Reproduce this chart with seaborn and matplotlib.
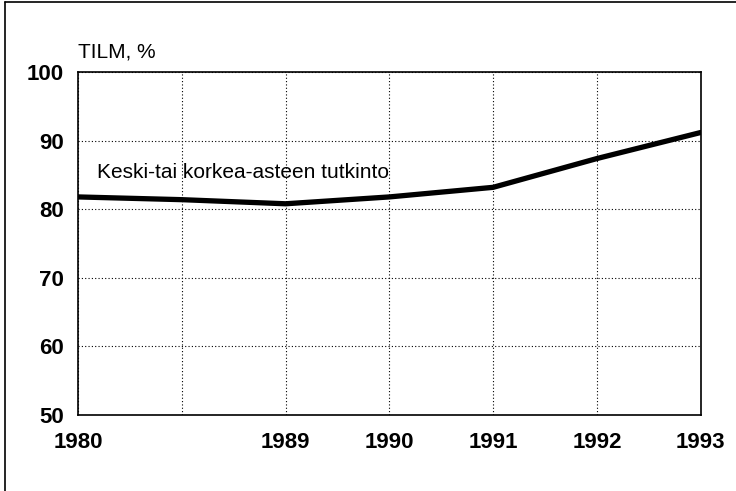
import matplotlib
matplotlib.use("Agg")
import matplotlib.pyplot as plt
import seaborn as sns
import pandas as pd
from matplotlib.lines import Line2D

# --- Data ---
vuodet = ["1980", "", "1989", "1990", "1991", "1992", "1993"]
osuus = [81.8, 81.4, 80.8, 81.8, 83.2, 87.4, 91.2]
y_ticks = [50, 60, 70, 80, 90, 100]
sarja_nimi = "Keski-tai korkea-asteen tutkinto"

df = pd.DataFrame({"pos": range(len(vuodet)), "osuus": osuus})

sns.set_style("white")
plt.rcParams["font.family"] = ["Liberation Sans", "DejaVu Sans"]
plt.rcParams["text.color"] = "black"
plt.rcParams["xtick.color"] = "black"
plt.rcParams["ytick.color"] = "black"

fig = plt.figure(figsize=(7.36, 4.91), dpi=100)
ax = fig.add_axes([0.106, 0.155, 0.846, 0.698])

sns.lineplot(data=df, x="pos", y="osuus", color="black", linewidth=3.8, ax=ax)

ax.set_xlim(0, len(vuodet) - 1)
ax.set_ylim(50, 100)
ax.set_xticks(range(len(vuodet)))
ax.set_xticklabels(vuodet, fontsize=16, fontweight="bold")
ax.set_yticks(y_ticks)
ax.set_yticklabels([str(v) for v in y_ticks], fontsize=16, fontweight="bold")
ax.tick_params(axis="x", direction="out", length=7, width=1.2, pad=5)
ax.tick_params(axis="y", length=0, pad=10)
ax.set_xlabel("")
ax.set_ylabel("")

ax.grid(True, linestyle=(0, (1, 2)), color="black", linewidth=0.8)
for s in ax.spines.values():
    s.set_color("black")
    s.set_linewidth(1.2)

ax.text(0.0, 101.5, "TILM, %", fontsize=15, ha="left", va="bottom")
ax.text(0.18, 85.4, sarja_nimi, fontsize=15, ha="left", va="center")

# outer frame (left and top edges)
fig.add_artist(Line2D([0.007, 0.007], [0.0, 0.996], color="black", linewidth=1.2,
                      transform=fig.transFigure))
fig.add_artist(Line2D([0.007, 1.0], [0.996, 0.996], color="black", linewidth=1.2,
                      transform=fig.transFigure))

fig.savefig("out.png", dpi=100, facecolor="white")
